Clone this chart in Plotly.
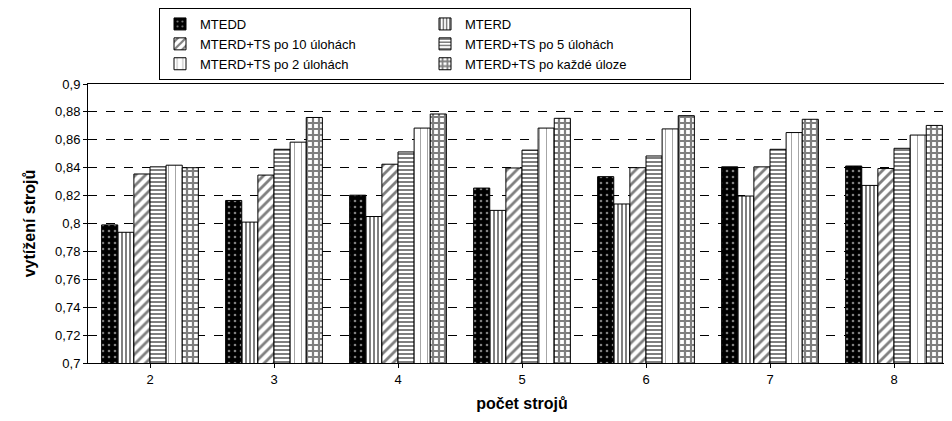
import plotly.graph_objects as go

categories = ["2", "3", "4", "5", "6", "7", "8"]
series_names = ["MTEDD", "MTERD", "MTERD+TS po 10 úlohách", "MTERD+TS po 5 úlohách",
                "MTERD+TS po 2 úlohách", "MTERD+TS po každé úloze"]
mtedd = [0.799, 0.8165, 0.8203, 0.8254, 0.8336, 0.8406, 0.8412]
mterd = [0.7937, 0.801, 0.805, 0.8094, 0.814, 0.8197, 0.8273]
ts10 = [0.8355, 0.8347, 0.8425, 0.8398, 0.840, 0.8406, 0.8394]
ts5 = [0.8406, 0.8532, 0.8513, 0.8526, 0.8484, 0.8532, 0.8539]
ts2 = [0.8418, 0.8583, 0.8684, 0.8684, 0.8678, 0.8652, 0.8634]
tseach = [0.840, 0.876, 0.8785, 0.8754, 0.8773, 0.8747, 0.8703]
values = [mtedd, mterd, ts10, ts5, ts2, tseach]

patterns = [
    dict(shape=".", bgcolor="black", fgcolor="white", size=6, solidity=0.15),
    dict(shape="|", bgcolor="white", fgcolor="black", size=4, solidity=0.5),
    dict(shape="/", bgcolor="white", fgcolor="black", size=7, solidity=0.4),
    dict(shape="-", bgcolor="white", fgcolor="black", size=4, solidity=0.5),
    dict(shape="|", bgcolor="white", fgcolor="black", size=7, solidity=0.1),
    dict(shape="+", bgcolor="white", fgcolor="black", size=6, solidity=0.6),
]

fig = go.Figure()
for name, v, p in zip(series_names, values, patterns):
    fig.add_bar(x=categories, y=v, name=name,
                marker=dict(color="white", pattern=p, line=dict(color="black", width=1)))

fig.update_layout(
    width=952, height=421,
    margin=dict(l=80, r=4, t=40, b=66),
    paper_bgcolor="white", plot_bgcolor="white",
    font=dict(family="Liberation Sans, Arial", size=13, color="black"),
    separators=", ",
    barmode="group", bargap=0.22, bargroupgap=0,
    legend=dict(orientation="h", x=0.1, y=1.0, xanchor="left", yanchor="bottom",
                entrywidth=220, entrywidthmode="pixels",
                bordercolor="black", borderwidth=1, bgcolor="white",
                font=dict(size=13), tracegroupgap=0),
    xaxis=dict(title=dict(text="<b>počet strojů</b>", font=dict(size=16), standoff=12),
               showline=True, linecolor="black", mirror=True, ticks="outside",
               ticklen=4, tickcolor="black"),
    yaxis=dict(title=dict(text="<b>vytížení strojů</b>", font=dict(size=16)),
               range=[0.7, 0.9], dtick=0.02, tickformat=".2~f",
               showline=True, linecolor="black", mirror=True, ticks="outside",
               ticklen=4, tickcolor="black",
               showgrid=True, gridcolor="black", griddash="dash", gridwidth=1),
)
fig.write_html("out.html")
